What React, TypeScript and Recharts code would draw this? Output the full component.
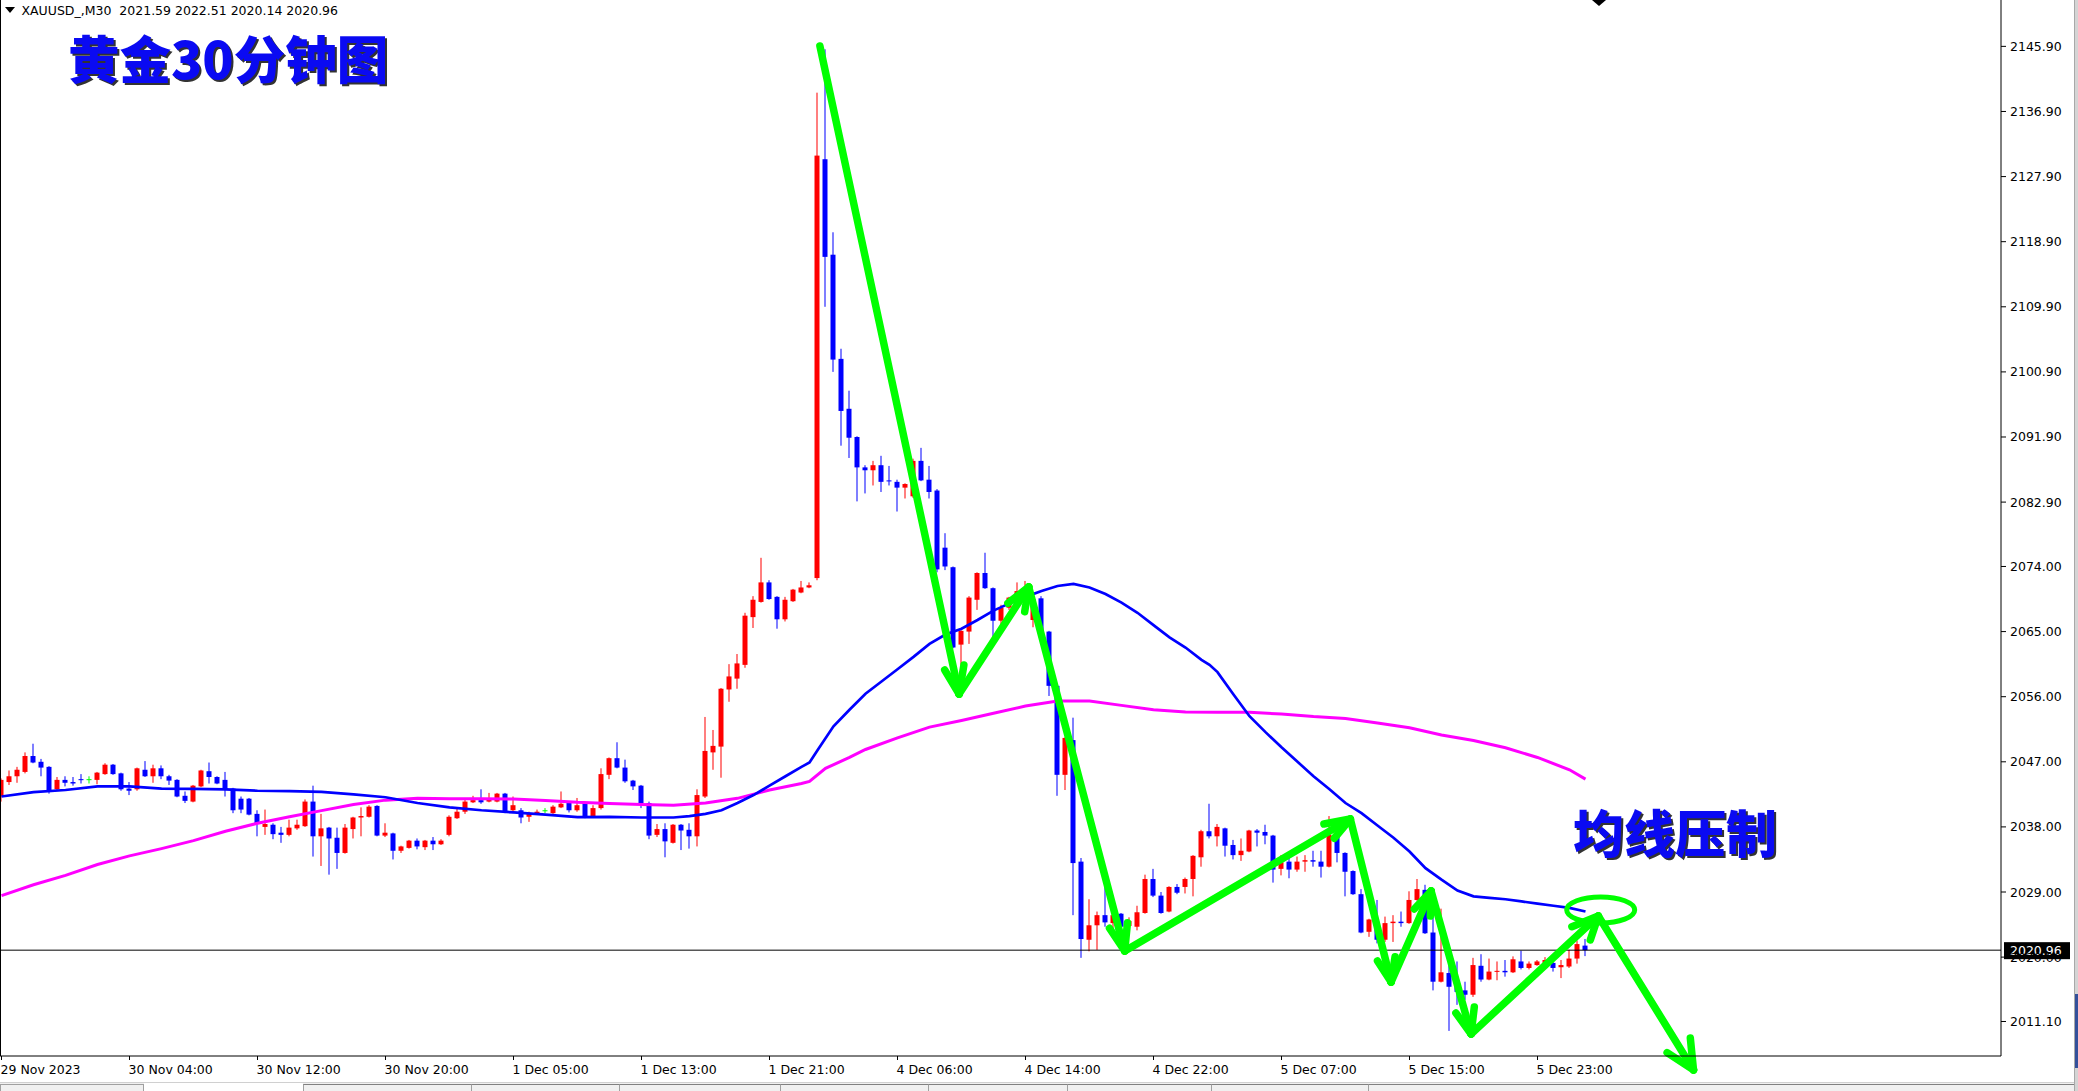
import React from 'react';
import { ComposedChart, Bar, Line, XAxis, YAxis, ReferenceLine, ReferenceDot } from 'recharts';

const FONT = '"DejaVu Sans", sans-serif';
const CJK = '"Noto Sans CJK SC", sans-serif';

const SYMBOL = 'XAUUSD_,M30';
const HEADER_OHLC = [2021.59, 2022.51, 2020.14, 2020.96];
const TITLE = '黄金30分钟图';
const NOTE = '均线压制';
const BID = 2020.96;

const OPEN = [
  2042.2, 2044.2, 2045.0, 2045.6, 2047.8, 2047.0, 2046.3, 2043.2, 2044.5, 2044.2,
  2044.6, 2044.6, 2044.5, 2045.3, 2046.6, 2045.4, 2043.3, 2043.2, 2045.9, 2045.0,
  2046.1, 2045.0, 2044.5, 2042.3, 2041.5, 2043.6, 2045.7, 2044.9, 2044.5, 2043.3,
  2041.9, 2041.9, 2039.8, 2038.0, 2038.3, 2037.2, 2036.9, 2037.8, 2038.1, 2041.5,
  2036.7, 2037.9, 2036.5, 2034.4, 2037.7, 2039.3, 2039.4, 2040.9, 2036.8, 2037.1,
  2034.7, 2035.1, 2036.1, 2035.2, 2036.1, 2035.6, 2036.9, 2039.2, 2040.1, 2041.4,
  2041.7, 2041.5, 2041.5, 2042.6, 2040.3, 2040.3, 2039.4, 2039.8, 2040.3, 2039.9,
  2040.7, 2041.3, 2040.3, 2041.3, 2039.4, 2040.6, 2045.2, 2047.5, 2046.2, 2044.4,
  2043.7, 2041.3, 2036.9, 2037.7, 2035.8, 2038.3, 2037.6, 2036.7, 2042.2, 2048.3,
  2049.1, 2057.0, 2058.5, 2060.4, 2067.0, 2069.1, 2071.8, 2069.8, 2066.7, 2069.2,
  2070.4, 2071.1, 2072.4, 2130.3, 2117.1, 2102.7, 2095.8, 2091.9, 2087.7, 2087.3,
  2088.0, 2085.9, 2085.7, 2084.9, 2083.7, 2088.6, 2086.0, 2084.5, 2076.6, 2073.9,
  2063.2, 2065.0, 2069.4, 2073.1, 2071.0, 2066.5, 2068.3, 2069.1, 2070.6, 2066.6,
  2069.6, 2065.0, 2057.5, 2045.2, 2050.0, 2033.2, 2022.4, 2024.4, 2025.8, 2024.7,
  2026.0, 2024.3, 2024.2, 2026.1, 2030.8, 2028.5, 2026.3, 2029.7, 2029.7, 2030.8,
  2033.8, 2037.4, 2036.7, 2037.8, 2035.5, 2034.1, 2034.6, 2037.5, 2037.3, 2036.8,
  2032.2, 2033.2, 2032.1, 2033.2, 2033.4, 2033.2, 2032.5, 2036.9, 2034.4, 2031.9,
  2028.7, 2023.5, 2024.2, 2022.4, 2024.7, 2024.9, 2024.7, 2027.9, 2029.3, 2023.4,
  2016.6, 2017.8, 2016.0, 2015.4, 2014.8, 2018.8, 2016.9, 2018.0, 2018.1, 2017.9,
  2019.4, 2018.5, 2018.9, 2019.2, 2019.2, 2018.6, 2018.7, 2019.8, 2021.59,
];

const HIGH = [
  2044.7, 2045.8, 2046.3, 2048.3, 2049.5, 2047.4, 2046.4, 2044.9, 2045.0, 2044.9,
  2045.3, 2045.0, 2045.6, 2046.8, 2046.7, 2045.5, 2044.2, 2046.2, 2047.1, 2046.6,
  2046.5, 2045.2, 2044.6, 2042.9, 2043.8, 2045.9, 2046.9, 2045.0, 2045.6, 2043.4,
  2042.2, 2042.0, 2040.3, 2040.4, 2038.5, 2038.0, 2039.0, 2039.0, 2041.8, 2043.7,
  2039.8, 2038.0, 2037.9, 2038.4, 2039.4, 2040.7, 2041.0, 2041.0, 2038.5, 2037.2,
  2035.4, 2036.2, 2036.4, 2036.2, 2036.6, 2036.3, 2039.6, 2040.7, 2041.8, 2042.3,
  2043.2, 2042.7, 2042.7, 2042.7, 2042.2, 2040.6, 2040.1, 2040.4, 2040.6, 2041.0,
  2042.9, 2041.5, 2042.0, 2041.4, 2041.0, 2046.1, 2047.6, 2049.7, 2047.3, 2044.5,
  2043.8, 2041.5, 2038.4, 2038.5, 2038.4, 2038.4, 2038.5, 2043.2, 2053.2, 2051.4,
  2057.2, 2060.5, 2061.9, 2067.6, 2069.9, 2075.2, 2072.1, 2069.9, 2069.8, 2070.9,
  2072.0, 2071.8, 2139.5, 2145.5, 2120.2, 2104.1, 2098.3, 2092.0, 2088.0, 2088.6,
  2089.3, 2087.9, 2086.0, 2085.5, 2088.9, 2090.4, 2087.9, 2084.7, 2078.6, 2074.0,
  2065.2, 2069.9, 2073.2, 2075.9, 2071.1, 2068.7, 2069.8, 2071.8, 2072.0, 2069.9,
  2069.9, 2065.1, 2057.6, 2050.4, 2053.1, 2033.7, 2028.0, 2026.3, 2029.7, 2026.0,
  2026.1, 2025.5, 2027.1, 2031.4, 2032.2, 2029.0, 2029.8, 2030.1, 2031.0, 2034.1,
  2037.6, 2041.2, 2038.4, 2037.9, 2036.2, 2036.4, 2037.6, 2037.7, 2038.3, 2036.9,
  2034.1, 2034.1, 2033.9, 2034.1, 2034.7, 2034.7, 2039.5, 2037.6, 2034.5, 2032.0,
  2029.4, 2025.3, 2027.9, 2025.6, 2025.8, 2026.3, 2029.1, 2030.8, 2030.0, 2025.6,
  2026.7, 2019.4, 2019.4, 2016.6, 2019.9, 2020.4, 2019.8, 2019.4, 2019.6, 2020.1,
  2020.9, 2019.4, 2019.6, 2020.0, 2019.6, 2019.6, 2021.0, 2022.3, 2022.51,
];

const LOW = [
  2041.5, 2043.8, 2044.1, 2045.4, 2046.8, 2045.0, 2042.6, 2043.1, 2043.6, 2043.7,
  2044.0, 2044.0, 2043.9, 2045.2, 2045.2, 2043.0, 2042.4, 2043.0, 2044.9, 2044.1,
  2044.6, 2043.8, 2042.1, 2041.3, 2041.4, 2043.5, 2044.0, 2043.9, 2042.2, 2039.9,
  2039.9, 2039.6, 2036.7, 2036.9, 2036.3, 2035.8, 2036.7, 2037.6, 2038.0, 2033.9,
  2032.6, 2031.4, 2032.2, 2034.3, 2036.4, 2036.7, 2039.3, 2036.7, 2036.6, 2033.5,
  2034.4, 2035.0, 2034.9, 2034.8, 2034.8, 2035.5, 2036.7, 2039.1, 2039.8, 2041.3,
  2041.2, 2041.4, 2041.4, 2039.9, 2039.9, 2038.5, 2038.7, 2039.7, 2039.9, 2039.8,
  2040.6, 2040.0, 2040.1, 2039.2, 2039.3, 2040.4, 2044.6, 2046.1, 2044.1, 2043.1,
  2040.6, 2036.3, 2036.6, 2033.8, 2035.7, 2034.8, 2035.0, 2035.3, 2042.0, 2045.9,
  2044.8, 2055.3, 2057.1, 2060.0, 2065.5, 2069.0, 2069.4, 2065.4, 2066.4, 2069.1,
  2070.3, 2071.0, 2072.1, 2109.9, 2100.9, 2090.7, 2089.0, 2083.0, 2084.1, 2085.2,
  2084.3, 2085.2, 2081.6, 2083.4, 2083.5, 2085.8, 2083.4, 2073.2, 2073.5, 2062.7,
  2060.4, 2063.3, 2068.0, 2070.9, 2064.3, 2065.9, 2068.0, 2068.4, 2069.3, 2065.6,
  2063.8, 2056.1, 2042.3, 2043.1, 2025.8, 2019.9, 2020.8, 2021.0, 2024.2, 2023.5,
  2023.7, 2023.8, 2023.7, 2026.0, 2028.3, 2026.0, 2026.2, 2028.7, 2028.8, 2028.4,
  2032.5, 2036.4, 2035.3, 2033.9, 2033.5, 2033.3, 2034.5, 2035.3, 2035.6, 2030.3,
  2031.3, 2030.9, 2031.8, 2031.8, 2032.5, 2031.0, 2032.4, 2033.1, 2028.4, 2028.6,
  2023.3, 2022.8, 2021.9, 2022.1, 2022.1, 2024.2, 2024.6, 2027.8, 2023.2, 2015.4,
  2016.5, 2009.8, 2013.4, 2014.1, 2014.5, 2016.6, 2016.8, 2016.8, 2017.3, 2017.8,
  2018.3, 2018.3, 2018.8, 2018.9, 2018.0, 2017.1, 2018.5, 2019.1, 2020.14,
];

const CLOSE = [
  2044.5, 2045.0, 2045.9, 2047.8, 2046.9, 2046.2, 2043.1, 2044.5, 2044.1, 2044.0,
  2044.5, 2044.6, 2045.5, 2046.6, 2045.3, 2043.2, 2043.0, 2046.1, 2045.0, 2046.1,
  2045.0, 2044.4, 2042.2, 2041.6, 2043.7, 2045.8, 2044.9, 2044.0, 2043.2, 2040.3,
  2040.4, 2039.7, 2038.4, 2038.4, 2037.0, 2036.9, 2037.9, 2038.3, 2041.5, 2036.7,
  2037.8, 2036.4, 2034.4, 2037.9, 2039.3, 2039.5, 2040.8, 2036.8, 2037.2, 2034.7,
  2035.3, 2036.1, 2035.3, 2036.1, 2035.6, 2036.1, 2039.4, 2040.1, 2041.5, 2041.7,
  2041.4, 2041.9, 2042.6, 2040.2, 2041.0, 2039.3, 2039.8, 2040.1, 2040.3, 2040.8,
  2041.2, 2040.3, 2041.0, 2039.3, 2040.6, 2045.3, 2047.5, 2046.2, 2044.3, 2043.6,
  2041.3, 2036.8, 2037.7, 2036.0, 2038.3, 2037.5, 2036.7, 2042.4, 2048.5, 2049.2,
  2057.1, 2058.8, 2060.6, 2067.2, 2069.4, 2071.8, 2069.5, 2066.7, 2069.4, 2070.8,
  2071.1, 2071.4, 2130.8, 2116.8, 2102.6, 2095.5, 2091.8, 2087.7, 2087.3, 2088.0,
  2085.7, 2085.8, 2084.9, 2085.4, 2088.6, 2085.9, 2084.3, 2073.6, 2074.0, 2062.8,
  2065.1, 2069.7, 2073.1, 2071.0, 2066.5, 2068.3, 2069.7, 2070.6, 2071.0, 2069.5,
  2065.0, 2057.5, 2045.2, 2050.3, 2033.0, 2022.5, 2024.4, 2025.8, 2024.8, 2025.8,
  2024.2, 2025.0, 2026.2, 2030.8, 2028.5, 2026.1, 2029.7, 2028.9, 2030.8, 2034.0,
  2037.4, 2036.7, 2038.0, 2035.4, 2034.1, 2034.7, 2037.5, 2037.2, 2036.8, 2032.1,
  2033.1, 2032.1, 2033.2, 2033.4, 2033.2, 2032.5, 2036.9, 2034.4, 2031.8, 2028.7,
  2023.4, 2025.2, 2022.4, 2024.7, 2024.9, 2024.7, 2027.9, 2029.4, 2023.3, 2016.6,
  2017.9, 2015.9, 2015.2, 2014.8, 2018.9, 2016.9, 2018.0, 2018.1, 2017.9, 2019.7,
  2018.5, 2019.1, 2019.4, 2019.6, 2018.5, 2018.9, 2019.8, 2021.8, 2020.96,
];

// [bar index, value]
const MA_BLUE = [
  [0, 2042.2], [4, 2042.8], [8, 2043.1], [12, 2043.6], [16, 2043.6], [20, 2043.3], [24, 2043.25],
  [28, 2043.2], [32, 2043.0], [36, 2042.95], [40, 2042.85], [44, 2042.5], [48, 2042.1], [52, 2041.3],
  [56, 2040.7], [60, 2040.3], [64, 2040.0], [68, 2039.7], [72, 2039.35], [76, 2039.4], [80, 2039.3],
  [84, 2039.3], [86, 2039.5], [88, 2039.8], [90, 2040.3], [92, 2041.3], [94, 2042.4], [96, 2043.7],
  [98, 2045.0], [100, 2046.3], [101, 2046.9], [102, 2048.6], [104, 2051.9], [106, 2054.2], [108, 2056.4],
  [110, 2058.1], [112, 2059.8], [114, 2061.5], [116, 2063.3], [118, 2064.6], [120, 2065.4], [122, 2066.6],
  [124, 2067.9], [126, 2068.9], [128, 2069.8], [130, 2070.6], [132, 2071.3], [134, 2071.6], [136, 2071.1],
  [138, 2070.2], [140, 2069.0], [142, 2067.6], [144, 2065.9], [146, 2064.2], [148, 2062.8], [150, 2061.1],
  [151, 2060.4], [152, 2059.4], [154, 2056.3], [156, 2053.3], [158, 2051.1], [160, 2049.0], [162, 2047.0],
  [164, 2045.0], [166, 2043.2], [168, 2041.3], [170, 2039.9], [172, 2038.2], [174, 2036.5], [176, 2034.6],
  [178, 2032.3], [180, 2030.7], [182, 2029.2], [184, 2028.4], [186, 2028.2], [188, 2028.0], [190, 2027.7],
  [192, 2027.4], [194, 2027.1], [196, 2026.8], [198, 2026.3],
];

const MA_MAGENTA = [
  [0, 2028.5], [4, 2030.0], [8, 2031.3], [12, 2032.8], [16, 2034.0], [20, 2035.0], [24, 2036.1],
  [28, 2037.4], [32, 2038.5], [36, 2039.4], [40, 2040.25], [44, 2041.1], [48, 2041.7], [52, 2041.95],
  [56, 2041.9], [60, 2041.9], [64, 2041.85], [68, 2041.65], [72, 2041.4], [76, 2041.25], [80, 2041.1],
  [84, 2041.0], [88, 2041.3], [92, 2041.95], [96, 2043.1], [100, 2044.0], [101, 2044.3], [103, 2046.1],
  [106, 2047.6], [108, 2048.7], [112, 2050.3], [116, 2051.8], [120, 2052.7], [124, 2053.7], [128, 2054.7],
  [132, 2055.4], [136, 2055.4], [140, 2054.8], [144, 2054.2], [148, 2053.9], [152, 2053.85], [156, 2053.85],
  [160, 2053.6], [164, 2053.25], [168, 2053.0], [172, 2052.35], [176, 2051.7], [180, 2050.7], [184, 2049.95],
  [188, 2048.95], [192, 2047.6], [196, 2045.9], [198, 2044.6],
];

const X_TICK_BARS = [0, 16, 32, 48, 64, 80, 96, 112, 128, 144, 160, 176, 192];
const X_TICK_LABELS = [
  '29 Nov 2023', '30 Nov 04:00', '30 Nov 12:00', '30 Nov 20:00', '1 Dec 05:00', '1 Dec 13:00',
  '1 Dec 21:00', '4 Dec 06:00', '4 Dec 14:00', '4 Dec 22:00', '5 Dec 07:00', '5 Dec 15:00', '5 Dec 23:00',
];
const Y_TICKS = [
  2011.1, 2020.0, 2029.0, 2038.0, 2047.0, 2056.0, 2065.0, 2074.0,
  2082.9, 2091.9, 2100.9, 2109.9, 2118.9, 2127.9, 2136.9, 2145.9,
];

// hand-drawn annotation (bar index, price)
const ARROW_PATH = [
  { x: 102.3, y: 2145.96 }, { x: 119.7, y: 2056.37 }, { x: 128.4, y: 2071.17 }, { x: 140.4, y: 2020.85 },
  { x: 168.6, y: 2039.09 }, { x: 173.7, y: 2016.56 }, { x: 178.7, y: 2029.14 }, { x: 183.7, y: 2009.38 },
  { x: 199.6, y: 2025.68 }, { x: 211.5, y: 2004.4 },
];
const ARROW_HEADS = [
  { tip: 1, arms: [{ x: 117.9, y: 2059.69 }, { x: 120.3, y: 2060.38 }] },
  { tip: 2, arms: [{ x: 125.8, y: 2068.92 }, { x: 127.9, y: 2067.75 }] },
  { tip: 3, arms: [{ x: 138.5, y: 2023.99 }, { x: 140.75, y: 2024.76 }] },
  { tip: 4, arms: [{ x: 165.3, y: 2038.4 }, { x: 166.6, y: 2036.43 }] },
  { tip: 5, arms: [{ x: 172.0, y: 2019.47 }, { x: 174.2, y: 2020.06 }] },
  { tip: 6, arms: [{ x: 176.6, y: 2026.65 }, { x: 178.6, y: 2025.68 }] },
  { tip: 7, arms: [{ x: 181.8, y: 2012.28 }, { x: 184.1, y: 2013.1 }] },
  { tip: 8, arms: [{ x: 196.3, y: 2024.2 }, { x: 198.6, y: 2022.37 }] },
  { tip: 9, arms: [{ x: 211.1, y: 2008.82 }, { x: 208.2, y: 2006.8 }] },
];
const RING = { x: 199.9, y: 2026.52 };

const rows: any[] = OPEN.map((o, i) => ({
  i, o, h: HIGH[i], l: LOW[i], c: CLOSE[i],
}));
MA_BLUE.forEach(([b, v]) => { rows[b].maBlue = v; });
MA_MAGENTA.forEach(([b, v]) => { rows[b].maMag = v; });

const BULL = '#FF0000';
const BEAR = '#0000FF';
const DOJI = '#00FF00';
const GREEN = '#00FF00';

function Candle(props: any) {
  const { x, y, width, height, payload } = props;
  if (!payload || x == null) return null;
  const { o, h, l, c } = payload;
  const top = Math.min(y, y + height);
  const span = Math.abs(height);
  const k = h - l > 0 ? span / (h - l) : 0;
  const py = (v: number) => top + (h - v) * k;
  const cx = x + width / 2;
  const color = c > o ? BULL : c < o ? BEAR : DOJI;
  const bTop = py(Math.max(o, c));
  const bBot = py(Math.min(o, c));
  return (
    <g>
      <rect x={cx - 0.5} y={py(h)} width={1} height={Math.max(1, py(l) - py(h))} fill={color} />
      <rect x={cx - 2.5} y={bTop} width={5} height={Math.max(1, bBot - bTop)} fill={color} />
    </g>
  );
}

function XTick(props: any) {
  const { x, y, payload } = props;
  const idx = X_TICK_BARS.indexOf(payload.value);
  return (
    <text x={x - 1} y={y + 11.5} fontSize={12.5} fontFamily={FONT} fill="#000" textAnchor="start">
      {X_TICK_LABELS[idx]}
    </text>
  );
}

function YTick(props: any) {
  const { x, y, payload } = props;
  return (
    <text x={x} y={y + 4.5} fontSize={12.5} fontFamily={FONT} fill="#000" textAnchor="start">
      {Number(payload.value).toFixed(2)}
    </text>
  );
}

function BidLabel(props: any) {
  const vb = props.viewBox || {};
  const x = (vb.x || 0) + (vb.width || 0);
  const y = vb.y || 0;
  return (
    <g>
      <rect x={x + 3} y={y - 8} width={66} height={17} fill="#000" />
      <text x={x + 9} y={y + 4.5} fontSize={12.5} fontFamily={FONT} fill="#fff">{BID.toFixed(2)}</text>
    </g>
  );
}

const greenSeg = (p: any) => (
  <line x1={p.x1} y1={p.y1} x2={p.x2} y2={p.y2} stroke={GREEN} strokeWidth={7.5} strokeLinecap="round" />
);

export default function App() {
  const segs: any[] = [];
  for (let k = 0; k < ARROW_PATH.length - 1; k++) {
    segs.push([ARROW_PATH[k], ARROW_PATH[k + 1]]);
  }
  ARROW_HEADS.forEach((hd) => {
    hd.arms.forEach((a) => segs.push([a, ARROW_PATH[hd.tip]]));
  });
  const headerText = `${SYMBOL}  ${HEADER_OHLC.map((v) => v.toFixed(2)).join(' ')}`;
  return (
    <div style={{ position: 'fixed', left: 0, top: 0, width: 2078, height: 1091, background: '#fff', overflow: 'hidden', fontFamily: FONT }}>
      <ComposedChart width={2078} height={1091} data={rows} margin={{ top: 0, right: 0, bottom: 0, left: 0 }}>
        <XAxis
          type="number"
          dataKey="i"
          domain={[-0.1875, 249.9375]}
          allowDataOverflow
          ticks={X_TICK_BARS}
          interval={0}
          height={35}
          tickSize={4}
          axisLine={{ stroke: '#000' }}
          tickLine={{ stroke: '#000' }}
          tick={<XTick />}
        />
        <YAxis
          orientation="right"
          type="number"
          domain={[2006.33, 2152.31]}
          allowDataOverflow
          ticks={Y_TICKS}
          interval={0}
          width={77}
          tickSize={5}
          tickMargin={4}
          axisLine={{ stroke: '#000' }}
          tickLine={{ stroke: '#000' }}
          tick={<YTick />}
        />
        <Bar dataKey={(d: any) => [d.l, d.h]} barSize={5} isAnimationActive={false} shape={(p: any) => <Candle {...p} />} />
        <Line dataKey="maMag" type="linear" stroke="#FF00FF" strokeWidth={3} dot={false} activeDot={false} connectNulls isAnimationActive={false} />
        <Line dataKey="maBlue" type="linear" stroke="#0000FF" strokeWidth={2.7} dot={false} activeDot={false} connectNulls isAnimationActive={false} />
        <ReferenceLine y={BID} stroke="#000" strokeWidth={1} label={(p: any) => <BidLabel {...p} />} />
        {segs.map((s, k) => (
          <ReferenceLine key={k} segment={s} ifOverflow="visible" shape={greenSeg} />
        ))}
        <ReferenceDot
          x={RING.x}
          y={RING.y}
          ifOverflow="visible"
          shape={(p: any) => (
            <ellipse cx={p.cx} cy={p.cy} rx={34} ry={13} fill="none" stroke={GREEN} strokeWidth={5} />
          )}
        />
      </ComposedChart>
      <svg width={2078} height={1091} style={{ position: 'absolute', left: 0, top: 0, pointerEvents: 'none' }}>
        <line x1={0.5} y1={0} x2={0.5} y2={1056} stroke="#000" strokeWidth={1} />
        <polygon points="5,7 15,7 10,13" fill="#000" />
        <text x={21.5} y={15} fontSize={12.5} fontFamily={FONT} fill="#000" style={{ whiteSpace: 'pre' }}>{headerText}</text>
        <polygon points="1592,0 1606,0 1599,6" fill="#000" />
        <text x={70} y={81} fontSize={51.5} fontWeight={900} fontFamily={CJK} fill="#333">{TITLE}</text>
        <text x={68} y={79} fontSize={51.5} fontWeight={900} fontFamily={CJK} fill="#0A0AF2">{TITLE}</text>
        <text x={1575} y={855} fontSize={51} fontWeight={900} fontFamily={CJK} fill="#333">{NOTE}</text>
        <text x={1573} y={853} fontSize={51} fontWeight={900} fontFamily={CJK} fill="#0A0AF2">{NOTE}</text>
        <rect x={0} y={1082} width={2074} height={9} fill="#f0f0f0" />
        <line x1={0} y1={1082.5} x2={2074} y2={1082.5} stroke="#d0d0d0" />
        <rect x={0.5} y={1084.5} width={143} height={8} fill="#f0f0f0" stroke="#a0a0a0" />
        <rect x={144} y={1083} width={159} height={8} fill="#fff" />
        <line x1={303} y1={1084.5} x2={2074} y2={1084.5} stroke="#808080" />
        {[303, 471, 619, 780, 928, 1067, 1211, 1368].map((sx) => (
          <line key={sx} x1={sx + 0.5} y1={1084.5} x2={sx + 0.5} y2={1091} stroke="#a0a0a0" />
        ))}
        <rect x={2074} y={0} width={4} height={1091} fill="#d4d4d4" />
        <line x1={2074.5} y1={0} x2={2074.5} y2={1091} stroke="#a8a8a8" />
        <rect x={2075} y={994} width={3} height={74} fill="#34509a" />
      </svg>
    </div>
  );
}
